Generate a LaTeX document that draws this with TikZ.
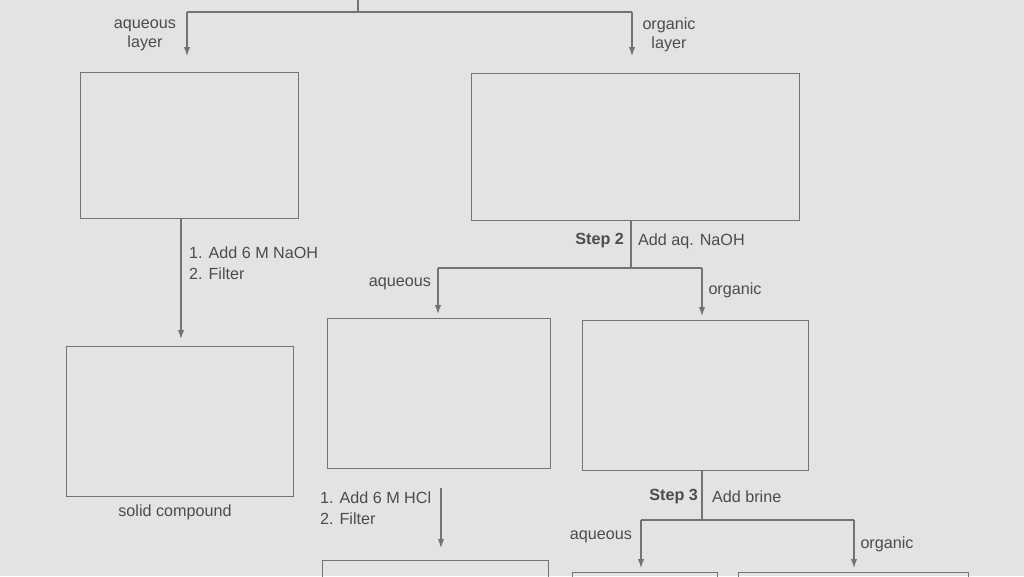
\documentclass[tikz,border=0pt]{standalone}
\usepackage{fontspec}
\setmainfont{Liberation Sans}
\usetikzlibrary{arrows.meta}
\begin{document}
\begin{tikzpicture}[x=0.02cm,y=-0.02cm,
  box/.style={draw=black!55,line width=0.5pt},
  ln/.style={draw=black!55,line width=0.6pt},
  arr/.style={ln,-{Latex[length=5pt,width=3.5pt]}},
  lab/.style={font=\fontsize{9.2}{11}\selectfont,text=black!70,inner sep=1pt},
  bl/.style={lab,font=\fontsize{9.2}{11}\selectfont\bfseries}]
\fill[gray!22] (0,0) rectangle (1024,576);
\useasboundingbox (0,0) rectangle (1024,576);
% boxes
\draw[box] (80,72) rectangle (298,218);
\coordinate (A) at (181,218);
\draw[box] (471,73) rectangle (799,220);
\coordinate (B) at (631,220);
\draw[box] (66,346) rectangle (293,496);
\draw[box] (327,318) rectangle (550,468);
\draw[box] (582,320) rectangle (808,470);
\draw[box] (322,580) -- (322,560) -- (548,560) -- (548,580);
\draw[box] (572,580) -- (572,572) -- (717,572) -- (717,580);
\draw[box] (738,580) -- (738,572) -- (968,572) -- (968,580);
% top split
\coordinate (t0) at (358,-5);
\coordinate (t1) at (358,12);
\coordinate (tl) at (187,12);
\coordinate (tr) at (632,12);
\draw[ln] (t0) -- (t1) (tl) -- (tr);
\draw[arr] (tl) -- (187,56);
\draw[arr] (tr) -- (632,56);
\node[lab,align=center] at (145,35) {aqueous\\layer};
\node[lab,align=center] at (669,35) {organic\\layer};
% A to C
\draw[arr] (A) -- (181,339);
\node[lab,align=left,anchor=north west] at (187,245) {1. Add 6 M NaOH\\[1pt]2. Filter};
\node[lab] at (175,512) {solid compound};
% step 2
\coordinate (s2) at (631,268);
\draw[ln] (B) -- (s2) (438,268) -- (702,268);
\draw[arr] (438,268) -- (438,314);
\draw[arr] (702,268) -- (702,316);
\node[bl,anchor=east] at (626,241) {Step 2};
\node[lab,anchor=west] at (636,241) {Add aq. NaOH};
\node[lab] at (400,284) {aqueous};
\node[lab] at (735,290) {organic};
% D down
\draw[arr] (441,488) -- (441,548);
\node[lab,align=left,anchor=north west] at (318,490) {1. Add 6 M HCl\\[1pt]2. Filter};
% step 3
\draw[ln] (702,470) -- (702,520) (641,520) -- (854,520);
\draw[arr] (641,520) -- (641,568);
\draw[arr] (854,520) -- (854,568);
\node[bl,anchor=east] at (700,497) {Step 3};
\node[lab,anchor=west] at (710,497) {Add brine};
\node[lab] at (601,537) {aqueous};
\node[lab] at (887,544) {organic};
\end{tikzpicture}
\end{document}
